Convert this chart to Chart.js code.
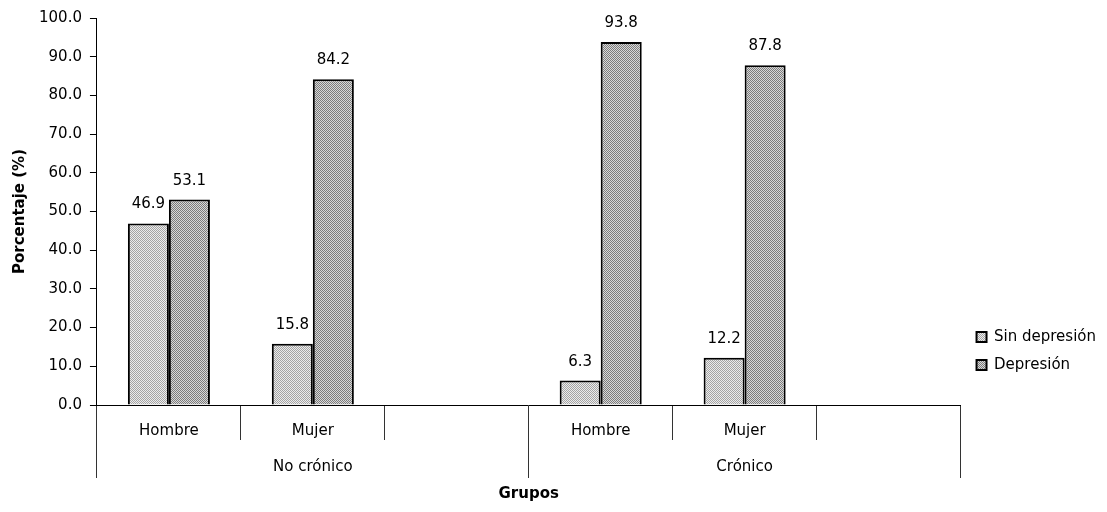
<!DOCTYPE html>
<html>
<head>
<meta charset="utf-8">
<script src="https://cdn.jsdelivr.net/npm/chart.js@4/dist/chart.umd.min.js"></script>
<style>
  html, body { margin: 0; padding: 0; background: #fff; }
  canvas { display: block; }
</style>
</head>
<body>
<canvas id="chart" width="1107" height="512"></canvas>
<script>
// Inner categories (sex) and outer groups (chronicity)
const subgroups = ['Hombre', 'Mujer', '', 'Hombre', 'Mujer', ''];
const groups = ['No crónico', 'Crónico'];

// Series
const seriesNames = ['Sin depresión', 'Depresión'];
const sinDepresion = [46.9, 15.8, null, 6.3, 12.2, null];
const depresion = [53.1, 84.2, null, 93.8, 87.8, null];

// Value axis
const yMin = 0;
const yMax = 100;
const yStep = 10;

const FONT = '"DejaVu Sans", "Liberation Sans", Arial, sans-serif';

// Small dithered fill, like a printed dot pattern
function dotPattern(dark, light) {
  const c = document.createElement('canvas');
  c.width = 2; c.height = 2;
  const g = c.getContext('2d');
  g.fillStyle = light; g.fillRect(0, 0, 2, 2);
  g.fillStyle = dark; g.fillRect(0, 0, 1, 1); g.fillRect(1, 1, 1, 1);
  return g.createPattern(c, 'repeat');
}

// Value printed above every bar
const valueLabels = {
  id: 'valueLabels',
  afterDatasetsDraw(chart) {
    const ctx = chart.ctx;
    ctx.save();
    ctx.font = '15px ' + FONT;
    ctx.fillStyle = '#000';
    ctx.textAlign = 'center';
    ctx.textBaseline = 'alphabetic';
    chart.data.datasets.forEach((ds, i) => {
      chart.getDatasetMeta(i).data.forEach((bar, j) => {
        const v = ds.data[j];
        if (v === null || v === undefined) return;
        ctx.fillText(v.toFixed(1), bar.x, bar.y - 15);
      });
    });
    ctx.restore();
  }
};

// Legend sits low on the right side, next to the plot
const legendPlacement = {
  id: 'legendPlacement',
  afterLayout(chart) {
    const lg = chart.legend;
    if (!lg) return;
    const h = lg.bottom - lg.top;
    lg.top = 316.5;
    lg.bottom = lg.top + h;
    lg.left += 3;
    lg.right += 3;
  }
};

Chart.defaults.font.family = FONT;
Chart.defaults.font.size = 15;
Chart.defaults.color = '#000';

new Chart(document.getElementById('chart'), {
  type: 'bar',
  data: {
    labels: subgroups,
    datasets: [
      {
        label: seriesNames[0],
        data: sinDepresion,
        backgroundColor: dotPattern('#a4a4a4', '#ececec'),
        borderColor: '#000',
        borderWidth: 2,
        borderSkipped: 'bottom'
      },
      {
        label: seriesNames[1],
        data: depresion,
        backgroundColor: dotPattern('#7c7c7c', '#d8d8d8'),
        borderColor: '#000',
        borderWidth: 2,
        borderSkipped: 'bottom'
      }
    ]
  },
  options: {
    responsive: false,
    animation: false,
    devicePixelRatio: 1,
    layout: { padding: { top: 18, left: 2, bottom: 9, right: 4 } },
    datasets: {
      bar: { categoryPercentage: 0.57, barPercentage: 1.0 }
    },
    plugins: {
      legend: {
        position: 'right',
        align: 'start',
        labels: {
          boxWidth: 10,
          boxHeight: 10,
          padding: 13,
          color: '#000',
          font: { size: 15 }
        }
      },
      tooltip: { enabled: false }
    },
    scales: {
      x: {
        type: 'category',
        offset: true,
        weight: 0,
        grid: {
          offset: true,
          drawOnChartArea: false,
          drawTicks: true,
          tickLength: 35,
          color: '#333',
          lineWidth: 1
        },
        border: { display: true, color: '#000', width: 1 },
        ticks: { padding: -18, maxRotation: 0, autoSkip: false, color: '#000', font: { size: 15 } },
        // first row of the category band is exactly as tall as its dividers
        afterFit(scale) { scale.height = 35; }
      },
      x2: {
        type: 'category',
        position: 'bottom',
        labels: groups,
        offset: true,
        weight: 1,
        grid: {
          offset: true,
          drawOnChartArea: false,
          drawTicks: true,
          tickLength: 38,
          color: '#333',
          lineWidth: 1
        },
        border: { display: false },
        ticks: { padding: -20, maxRotation: 0, autoSkip: false, color: '#000', font: { size: 15 } },
        title: {
          display: true,
          text: 'Grupos',
          color: '#000',
          font: { size: 15, weight: 'bold' },
          padding: { top: 9, bottom: 0 }
        },
        // second row: group dividers plus room for the axis title
        afterFit(scale) { scale.height = 63; }
      },
      y: {
        min: yMin,
        max: yMax,
        grid: {
          drawOnChartArea: false,
          drawTicks: true,
          tickLength: 7,
          color: '#000'
        },
        border: { display: true, color: '#000', width: 1 },
        ticks: {
          stepSize: yStep,
          padding: 8,
          color: '#000',
          font: { size: 15 },
          callback: v => Number(v).toFixed(1)
        },
        title: {
          display: true,
          text: 'Porcentaje (%)',
          color: '#000',
          font: { size: 15, weight: 'bold' },
          padding: { top: 9, bottom: 2 }
        }
      }
    }
  },
  plugins: [valueLabels, legendPlacement]
});
</script>
</body>
</html>
